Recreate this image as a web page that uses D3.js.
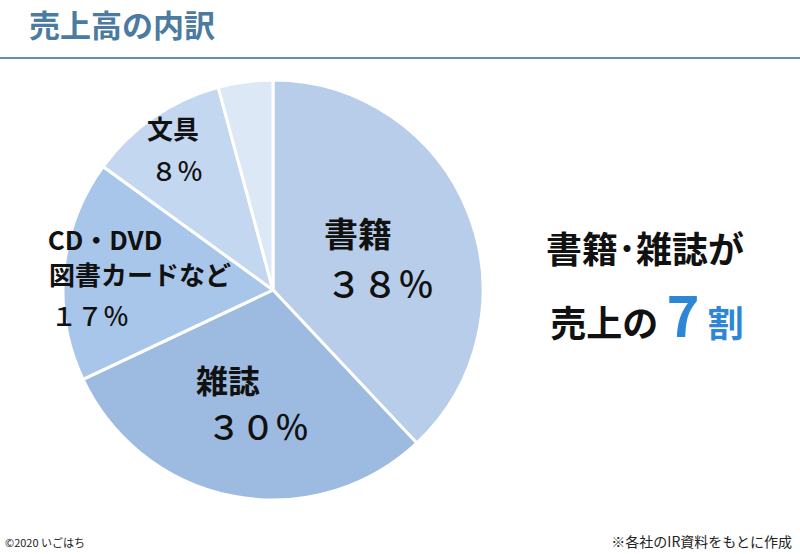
<!DOCTYPE html><html><head><meta charset="utf-8">
<script src="https://cdn.jsdelivr.net/npm/d3@7"></script>
<style>body{margin:0;background:#fff}text{font-family:"Noto Sans CJK JP",sans-serif}</style></head><body>
<svg id="c" width="800" height="554"></svg>
<script>
const categories=["書籍","雑誌","CD・DVD|図書カードなど","文具","その他"];
const values=[38,30,17,10.8,4.2];
const labels=["３８％","３０％","１７％","８％",""];
const colors=["#b7cde9","#9dbbe0","#a8c6e9","#c3d8f0","#dce8f6"];
const svg=d3.select("#c");
svg.append("text").attr("x",29).attr("y",37).attr("font-size",31).attr("font-weight","bold").attr("fill","#4b7ba1").text("売上高の内訳");
svg.append("line").attr("x1",0).attr("x2",800).attr("y1",58).attr("y2",58).attr("stroke","#5e8fb2").attr("stroke-width",2);
const cx=273,cy=290,r=210;
const pie=d3.pie().sort(null)(values);
const arc=d3.arc().innerRadius(0).outerRadius(r);
const g=svg.append("g").attr("transform",`translate(${cx},${cy})`);
g.selectAll("path").data(pie).join("path").attr("d",arc).attr("fill",(d,i)=>colors[i]).attr("stroke","#fff").attr("stroke-width",3);
const lab=[[{t:"書籍",x:358,y:247,s:34,b:1},{t:labels[0],x:380,y:298,s:36}],
[{t:"雑誌",x:228,y:393,s:32,b:1},{t:labels[1],x:258,y:440,s:34}],
[{t:"CD・DVD",x:105,y:250,s:26,b:1},{t:"図書カードなど",x:140,y:285,s:26,b:1},{t:labels[2],x:90,y:326,s:26}],
[{t:"文具",x:173,y:139,s:26,b:1},{t:labels[3],x:177,y:181,s:26}]];
lab.forEach(a=>a.forEach(o=>svg.append("text").attr("x",o.x).attr("y",o.y).attr("text-anchor","middle").attr("font-size",o.s).attr("font-weight",o.b?"bold":500).attr("fill","#111").text(o.t)));
svg.append("text").attr("x",645).attr("y",263).attr("text-anchor","middle").attr("font-size",36).attr("font-weight","bold").attr("fill","#111").text("書籍･雑誌が");
const t2=svg.append("text").attr("x",647).attr("y",337).attr("text-anchor","middle").attr("font-weight","bold").attr("fill","#111");
t2.append("tspan").attr("font-size",36).text("売上の ");
t2.append("tspan").attr("font-size",56).attr("fill","#2e86d6").text("7");
t2.append("tspan").attr("font-size",36).attr("fill","#2e86d6").text(" 割");
svg.append("text").attr("x",5).attr("y",547).attr("font-size",11).attr("fill","#222").text("©2020 いごはち");
svg.append("text").attr("x",792).attr("y",547).attr("text-anchor","end").attr("font-size",14).attr("fill","#222").text("※各社のIR資料をもとに作成");
</script></body></html>
